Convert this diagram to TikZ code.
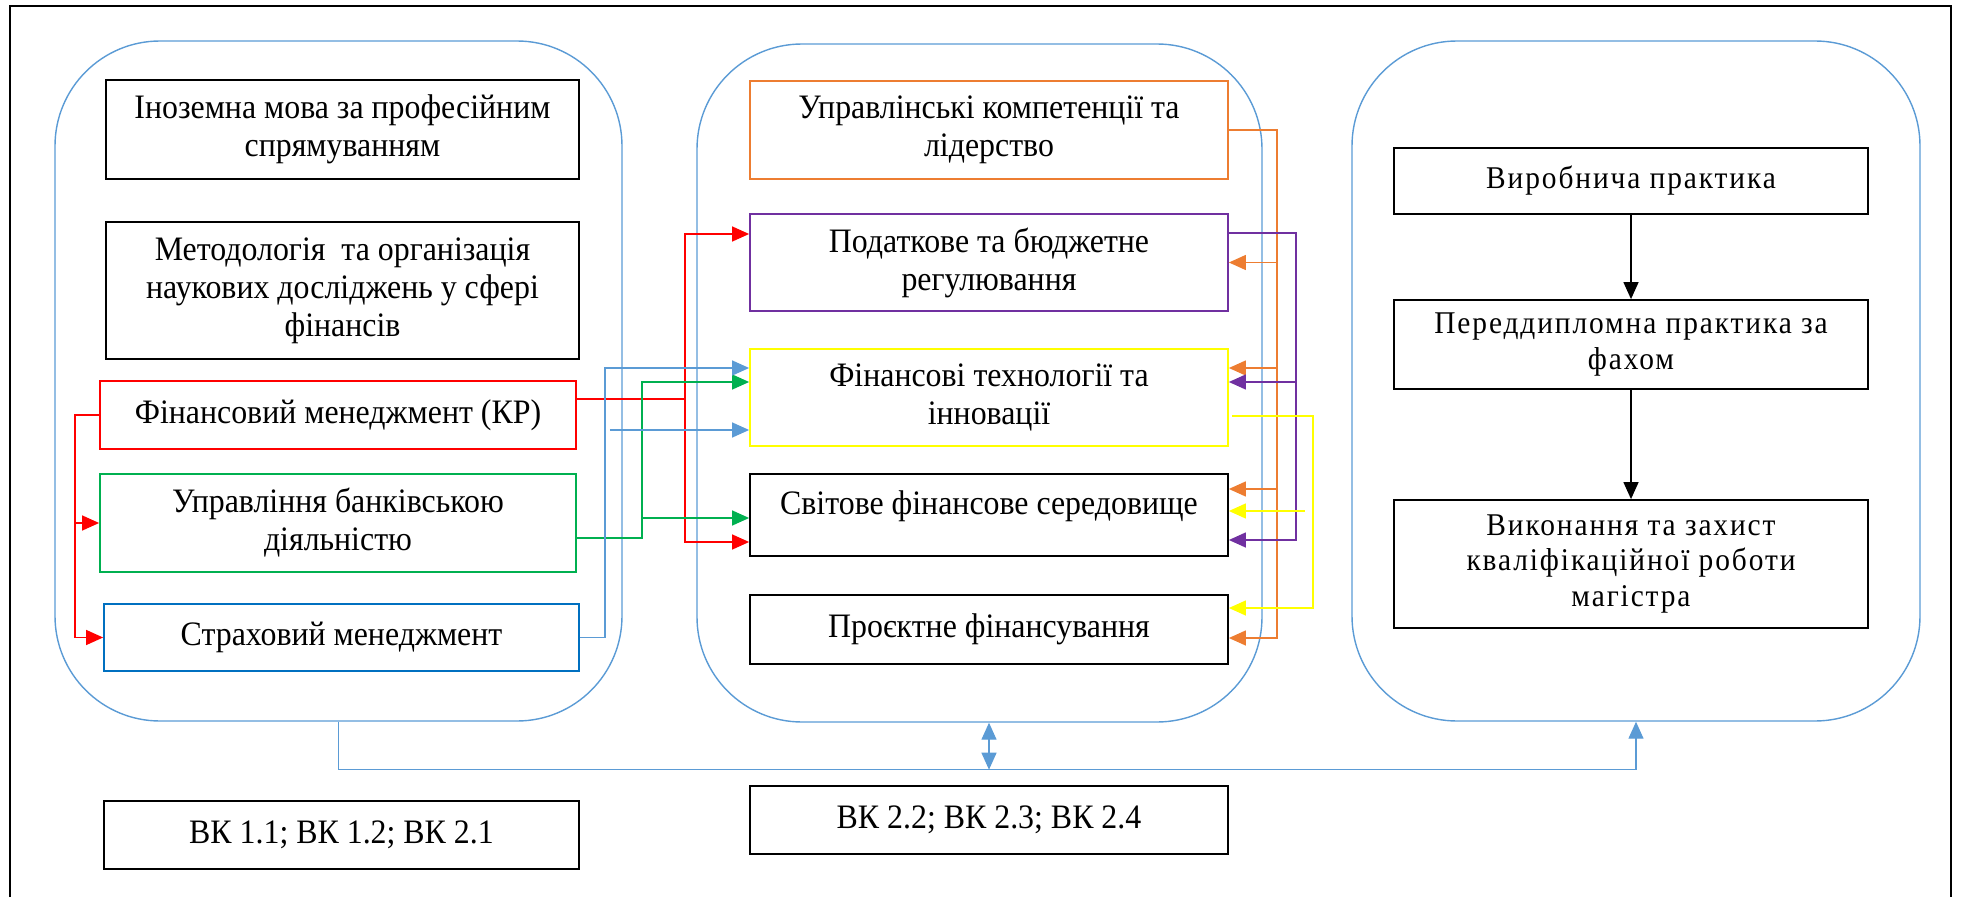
\documentclass[tikz,border=0pt]{standalone}
\usepackage{fontspec}
\setmainfont{Liberation Serif}[FakeStretch=0.93]
\usetikzlibrary{arrows.meta,positioning}
\definecolor{cblue}{HTML}{5B9BD5}
\definecolor{cred}{HTML}{FF0000}
\definecolor{cgreen}{HTML}{00B050}
\definecolor{cdblue}{HTML}{0070C0}
\definecolor{corange}{HTML}{ED7D31}
\definecolor{cpurple}{HTML}{7030A0}
\definecolor{cyellow}{HTML}{FFFF00}

\begin{document}
\begin{tikzpicture}[
  box/.style={draw, line width=1pt, minimum width=9.5cm, align=center, inner sep=2pt,
    font=\fontsize{19.5}{21.6}\selectfont},
  wide/.style={font=\fontsize{18}{20.3}\selectfont\addfontfeatures{LetterSpace=6}},
  group/.style={draw=cblue, line width=0.8pt, rounded corners=2.1cm,
    minimum width=11.34cm, minimum height=13.6cm},
  link/.style={line width=0.75pt, -{Triangle[length=0.34cm,width=0.3cm]}},
  twoway/.style={line width=0.75pt, {Triangle[length=0.34cm,width=0.3cm]}-{Triangle[length=0.34cm,width=0.3cm]}}
]
\useasboundingbox (0,0) rectangle (39.22,17.94);
% outer frame
\draw[line width=1.1pt] (0.2,0) |- (39.02,17.82) -- (39.02,0);

% three groups
\node[group] (gl) at (6.77,10.32) {};
\node[group, minimum width=11.30cm, minimum height=13.56cm] (gm) at (19.59,10.28) {};
\node[group, minimum width=11.36cm] (gr) at (32.72,10.32) {};

% left column
\node[box, minimum width=9.46cm, minimum height=1.98cm] (lang) at (6.85,15.35) {Іноземна мова за професійним\\спрямуванням};
\node[box, minimum width=9.46cm, minimum height=2.74cm] (meth) at (6.85,12.13) {Методологія~ та організація\\наукових досліджень у сфері\\фінансів};
\node[box, draw=cred, minimum width=9.52cm, minimum height=1.36cm] (fm) at (6.76,9.64) {Фінансовий менеджмент (КР)};
\node[box, draw=cgreen, minimum width=9.52cm, minimum height=1.96cm] (bank) at (6.76,7.48) {Управління банківською\\діяльністю};
\node[box, draw=cdblue, minimum height=1.34cm] (ins) at (6.83,5.19) {Страховий менеджмент};
\node[box, minimum height=1.36cm] (vk1) at (6.83,1.24) {ВК 1.1; ВК 1.2; ВК 2.1};

% middle column
\node[box, draw=corange, minimum width=9.56cm, minimum height=1.96cm] (lead) at (19.78,15.34) {Управлінські компетенції та\\лідерство};
\node[box, draw=cpurple, minimum width=9.56cm, minimum height=1.94cm] (tax) at (19.78,12.69) {Податкове та бюджетне\\регулювання};
\node[box, draw=cyellow, minimum width=9.56cm, minimum height=1.94cm] (tech) at (19.78,9.99) {Фінансові технології та\\інновації};
\node[box, minimum width=9.56cm, minimum height=1.64cm] (world) at (19.78,7.64) {\raisebox{0.18cm}[\height][\depth]{Світове фінансове середовище}};
\node[box, minimum width=9.56cm, minimum height=1.38cm] (proj) at (19.78,5.35) {Проєктне фінансування};
\node[box, minimum width=9.56cm, minimum height=1.36cm] (vk2) at (19.78,1.54) {ВК 2.2; ВК 2.3; ВК 2.4};

% right column
\node[box, wide, minimum width=9.48cm, minimum height=1.32cm] (prod) at (32.62,14.32) {Виробнича практика};
\node[box, wide, minimum width=9.48cm, minimum height=1.78cm, on grid, below=3.27cm of prod] (pre) {Переддипломна практика за\\фахом};
\node[box, wide, minimum width=9.48cm, minimum height=2.56cm, on grid, below=4.39cm of pre] (thes) {Виконання та захист\\кваліфікаційної роботи\\магістра};
\draw[link] (prod.south) -- (pre.north);
\draw[link] (pre.south) -- (thes.north);

% red links
\draw[link, cred] (fm.west) -- ++(-0.48,0) coordinate (fmw) |- (bank.west);
\draw[link, cred] (fmw) |- (ins.west);
\draw[link, cred] ([yshift=0.32cm]fm.east) -- ++(2.16,0) coordinate (fme) |- ([yshift=0.57cm]tax.west);
\draw[link, cred] (fme) |- ([yshift=-0.54cm]world.west);

% green links
\draw[link, cgreen] ([yshift=-0.30cm]bank.east) -- ++(1.30,0) coordinate (bke) |- ([yshift=0.31cm]tech.west);
\coordinate (wg) at ([yshift=-0.06cm]world.west);
\draw[link, cgreen] (bke |- wg) -- (wg);

% blue links
\draw[link, cblue] (ins.east) -- ++(0.50,0) coordinate (inse) |- ([yshift=0.59cm]tech.west);
\coordinate (tb) at ([yshift=-0.65cm]tech.west);
\draw[link, cblue] (inse |- tb) ++(0.1,0) -- (tb);

% orange links
\coordinate (po) at ([yshift=-0.17cm]proj.east);
\coordinate (to) at ([yshift=0.59cm]tech.east);
\coordinate (wo) at ([yshift=0.52cm]world.east);
\draw[link, corange] (lead.east) -- ++(0.96,0) coordinate (lde) |- (po);
\foreach \t in {tax.east, to, wo}
  \draw[link, corange] (lde |- \t) -- (\t);

% purple links
\draw[link, cpurple] ([yshift=0.59cm]tax.east) -- ++(1.34,0) coordinate (txe) |- ([yshift=-0.50cm]world.east);
\coordinate (tp) at ([yshift=0.31cm]tech.east);
\draw[link, cpurple] (txe |- tp) -- (tp);

% yellow links
\draw[link, cyellow] ([xshift=0.06cm, yshift=-0.37cm]tech.east) -- ++(1.62,0) coordinate (tce) |- ([yshift=0.43cm]proj.east);
\coordinate (wy) at ([yshift=0.08cm]world.east);
\draw[link, cyellow] (tce |- wy) ++(-0.16,0) -- (wy);

% bottom bus
\draw[link, cblue] (gl.south) -- ++(0,-0.96) coordinate (bus) -| (gr.south);
\draw[twoway, cblue] (lead |- gm.south) -- (lead |- bus);
\end{tikzpicture}
\end{document}
